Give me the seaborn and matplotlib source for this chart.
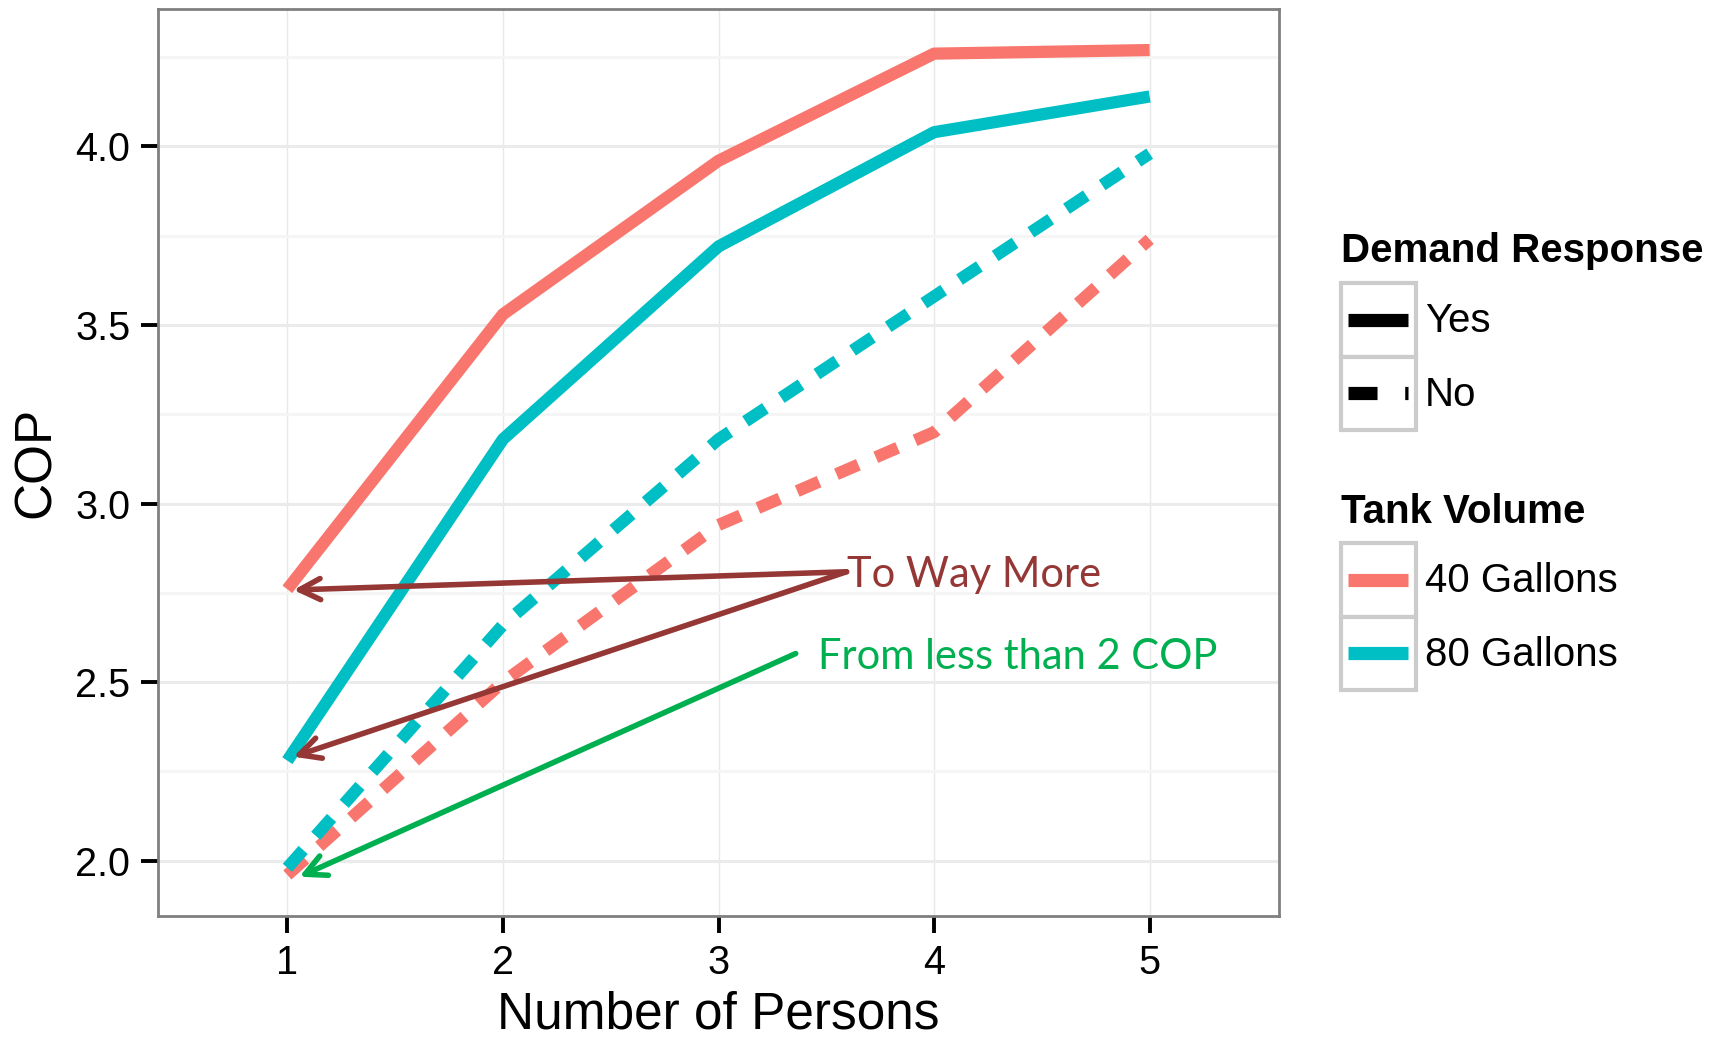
import matplotlib
matplotlib.use('Agg')
import matplotlib.pyplot as plt
import pandas as pd
import seaborn as sns
from matplotlib.patches import Rectangle
from matplotlib.lines import Line2D

# values
persons = [1, 2, 3, 4, 5]
cop_40_yes = [2.76, 3.53, 3.96, 4.26, 4.27]
cop_80_yes = [2.28, 3.18, 3.72, 4.04, 4.14]
cop_40_no = [1.96, 2.50, 2.94, 3.20, 3.74]
cop_80_no = [1.98, 2.66, 3.18, 3.58, 3.98]

tank_levels = ['40 Gallons', '80 Gallons']
dr_levels = ['Yes', 'No']
y_ticks = [2.0, 2.5, 3.0, 3.5, 4.0]
y_minor = [2.25, 2.75, 3.25, 3.75, 4.25]

RED = '#F8766D'
CYAN = '#00BFC4'
ARROW_RED = '#953735'
GREEN = '#00B050'

series = {
    ('40 Gallons', 'Yes'): cop_40_yes,
    ('80 Gallons', 'Yes'): cop_80_yes,
    ('40 Gallons', 'No'): cop_40_no,
    ('80 Gallons', 'No'): cop_80_no,
}
rows = []
for (tank, dr), vals in series.items():
    for p, v in zip(persons, vals):
        rows.append({'Persons': p, 'COP': v, 'Tank Volume': tank, 'Demand Response': dr})
df = pd.DataFrame(rows)

sns.set_theme(style='white')
plt.rcParams['font.family'] = ['Liberation Sans', 'DejaVu Sans']
plt.rcParams['text.color'] = 'black'
plt.rcParams['axes.labelcolor'] = 'black'

fig = plt.figure(figsize=(17.29, 10.37), dpi=100)
ax = fig.add_axes([158 / 1729, 1 - 916 / 1037, (1279 - 158) / 1729, (916 - 9) / 1037])

sns.lineplot(data=df, x='Persons', y='COP', hue='Tank Volume', style='Demand Response',
             hue_order=tank_levels, style_order=dr_levels,
             palette={'40 Gallons': RED, '80 Gallons': CYAN},
             dashes={'Yes': '', 'No': (1.95, 1.55)},
             linewidth=8.8, legend=False, ax=ax, sort=False,
             solid_capstyle='butt', dash_capstyle='butt', solid_joinstyle='round')

ax.set_xlim(0.4, 5.6)
ax.set_ylim(1.845, 4.385)
ax.set_xticks(persons)
ax.set_yticks(y_ticks)
ax.set_yticklabels([f'{t:.1f}' for t in y_ticks])
ax.set_yticks(y_minor, minor=True)
ax.grid(True, axis='y', which='major', color='#EBEBEB', linewidth=2.2)
ax.grid(True, axis='y', which='minor', color='#F5F5F5', linewidth=2.2)
ax.grid(True, axis='x', which='major', color='#E8E8E8', linewidth=1.0)
ax.set_axisbelow(True)
ax.tick_params(axis='both', which='major', direction='out', length=12, width=2.8,
               color='black', labelsize=28.5, labelcolor='black', pad=8, left=True, bottom=True)
ax.tick_params(axis='y', which='minor', length=0)
for s in ax.spines.values():
    s.set_color('#808080')
    s.set_linewidth(2)
ax.set_xlabel('Number of Persons', fontsize=37, labelpad=6)
ax.set_ylabel('COP', fontsize=37, labelpad=10)

# annotations drawn in the original slide
arrow_kw = dict(arrowstyle='->, head_length=0.75, head_width=0.38', lw=4,
                shrinkA=0, shrinkB=0, mutation_scale=20)
ax.annotate('', xy=(1.028, 2.758), xytext=(3.594, 2.809),
            arrowprops=dict(color=ARROW_RED, **arrow_kw))
ax.annotate('', xy=(1.028, 2.291), xytext=(3.594, 2.809),
            arrowprops=dict(color=ARROW_RED, **arrow_kw))
ax.annotate('', xy=(1.056, 1.955), xytext=(3.358, 2.580),
            arrowprops=dict(color=GREEN, **arrow_kw))
ax.text(3.594, 2.767, 'To Way More', color=ARROW_RED, fontsize=30,
        family=['Lato', 'DejaVu Sans'], ha='left', va='baseline')
ax.text(3.462, 2.538, 'From less than 2 COP', color=GREEN, fontsize=30,
        family=['Lato', 'DejaVu Sans'], ha='left', va='baseline')

# legend drawn in pixel space, ggplot style boxed keys
lax = fig.add_axes([0, 0, 1, 1], zorder=5)
lax.set_xlim(0, 1729)
lax.set_ylim(1037, 0)
lax.axis('off')
lax.patch.set_alpha(0)


def legend_block(title, title_y, box_top, labels, colors, styles):
    lax.text(1341, title_y, title, fontsize=29, fontweight='bold', ha='left', va='center')
    for i, (lab, col, st) in enumerate(zip(labels, colors, styles)):
        top = box_top + i * 73.5
        lax.add_patch(Rectangle((1341, top), 75, 73.5, facecolor='white',
                                edgecolor='#CCCCCC', linewidth=3))
        ln = Line2D([1348, 1408], [top + 36.75, top + 36.75], color=col, linewidth=9.5,
                    solid_capstyle='butt', dash_capstyle='butt')
        if st == 'No':
            ln.set_dashes((2.2, 2.1))
        lax.add_line(ln)
        lax.text(1425, top + 38, lab, fontsize=29, ha='left', va='center')


legend_block('Demand Response', 251, 283, dr_levels, ['black', 'black'], dr_levels)
legend_block('Tank Volume', 512, 543, tank_levels, [RED, CYAN], ['Yes', 'Yes'])

fig.savefig('out.png', dpi=100)
